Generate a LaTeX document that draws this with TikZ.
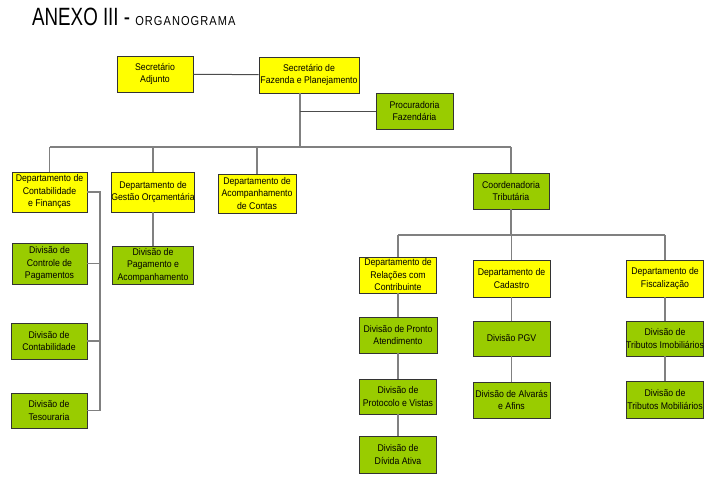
\documentclass[tikz,border=0pt]{standalone}
\usepackage{fontspec}
\setmainfont{Liberation Sans}[FakeStretch=0.9]
\newfontfamily\titlefont{Liberation Sans}[FakeStretch=0.75]
\newfontfamily\subtitlefont{Liberation Sans}[FakeStretch=0.85,LetterSpace=8]
\usepackage{tikz}
\usetikzlibrary{positioning}
\definecolor{boxyellow}{HTML}{FFFF00}
\definecolor{boxgreen}{HTML}{99CC00}
\definecolor{linegray}{HTML}{808080}

\begin{document}
\begin{tikzpicture}[x=1pt, y=-1pt,
  every node/.style={font=\fontsize{9.7}{12.5}\selectfont, align=center, inner sep=0pt},
  unit/.style={draw=black!80, line width=0.9pt, minimum width=77, minimum height=36},
  ybox/.style={unit, fill=boxyellow},
  gbox/.style={unit, fill=boxgreen},
  conn/.style={draw=linegray, line width=1.1pt},
  staffline/.style={draw=black!70, line width=1pt}]
  \useasboundingbox (0,0) rectangle (716,482);
  % titulo
  \node[anchor=base west] (title) at (32,25)
    {\titlefont\fontsize{25}{25}\selectfont ANEXO III - {\subtitlefont\fontsize{13}{13}\selectfont ORGANOGRAMA}};
  % topo
  \node[ybox, minimum width=76] (adj) at (155,74) {Secretário\\Adjunto};
  \node[ybox, minimum width=100] (sec) at (309,75) {Secretário de\\Fazenda e Planejamento};
  \node[gbox] (proc) at (414.5,111) {Procuradoria\\Fazendária};
  % departamentos
  \node[ybox, minimum width=75, minimum height=40] (dcf) at (49.5,192) {Departamento de\\Contabilidade\\e Finanças};
  \node[ybox, minimum width=82, minimum height=40] (dgo) at (153,192) {Departamento de\\Gestão Orçamentária};
  \node[ybox, minimum width=78, minimum height=39] (dac) at (257,193.5) {Departamento de\\Acompanhamento\\de Contas};
  \node[gbox, minimum width=76] (coord) at (511,191) {Coordenadoria\\Tributária};
  % divisoes da contabilidade
  \node[gbox, minimum width=75, minimum height=41] (dvcp) at (49.5,263.5) {Divisão de\\Controle de\\Pagamentos};
  \node[gbox, minimum width=76] (dvcont) at (49,341) {Divisão de\\Contabilidade};
  \node[gbox, minimum width=76, minimum height=35] (dvtes) at (49,410.5) {Divisão de\\Tesouraria};
  \node[gbox, minimum width=81, minimum height=38] (dvpa) at (153,265) {Divisão de\\Pagamento e\\Acompanhamento};
  % coordenadoria tributaria
  \node[ybox] (drc) at (398,275) {Departamento de\\Relações com\\Contribuinte};
  \node[ybox, minimum height=37] (dcad) at (511.5,278.5) {Departamento de\\Cadastro};
  \node[ybox, minimum height=37] (dfis) at (665,278.5) {Departamento de\\Fiscalização};
  \node[gbox, minimum width=78] (dvpron) at (398,335) {Divisão de Pronto\\Atendimento};
  \node[gbox, minimum height=35] (dvprot) at (398,396.5) {Divisão de\\Protocolo e Vistas};
  \node[gbox, minimum height=37] (dvdiv) at (398,454.5) {Divisão de\\Dívida Ativa};
  \node[gbox, minimum height=35] (dvpgv) at (511.5,338.5) {Divisão PGV};
  \node[gbox] (dvalv) at (511.5,400) {Divisão de Alvarás\\e Afins};
  \node[gbox, minimum height=35] (dvimo) at (665,338.5) {Divisão de\\Tributos Imobiliários};
  \node[gbox, minimum height=37] (dvmob) at (665,399.5) {Divisão de\\Tributos Mobiliários};
  % ligacoes
  \coordinate (mainbus) at (300,147);
  \coordinate (tribus) at (511,235);
  \coordinate (leftbar) at (100,0);
  \draw[staffline] (adj) -- (sec);
  \draw[conn] (sec.south -| mainbus) -- (mainbus);
  \draw[staffline] (proc.west) -- (proc.west -| mainbus);
  \draw[conn] (dcf.north |- mainbus) -- (coord.north |- mainbus);
  \foreach \n in {dcf,dgo,dac,coord}
    \draw[conn] (\n.north) -- (\n.north |- mainbus);
  \draw[conn] (dcf.east) -- (dcf.east -| leftbar) -- (dvtes.east -| leftbar) -- (dvtes.east);
  \draw[conn] (dvcp.east) -- (dvcp.east -| leftbar);
  \draw[conn] (dvcont.east) -- (dvcont.east -| leftbar);
  \draw[conn] (dgo) -- (dvpa);
  \draw[conn] (coord.south) -- (tribus);
  \draw[conn] (drc.north |- tribus) -- (dfis.north |- tribus);
  \foreach \n in {drc,dcad,dfis}
    \draw[conn] (\n.north) -- (\n.north |- tribus);
  \draw[conn] (drc) -- (dvpron);
  \draw[conn] (dvpron) -- (dvprot);
  \draw[conn] (dvprot) -- (dvdiv);
  \draw[conn] (dcad) -- (dvpgv);
  \draw[conn] (dvpgv) -- (dvalv);
  \draw[conn] (dfis) -- (dvimo);
  \draw[conn] (dvimo) -- (dvmob);
\end{tikzpicture}
\end{document}
